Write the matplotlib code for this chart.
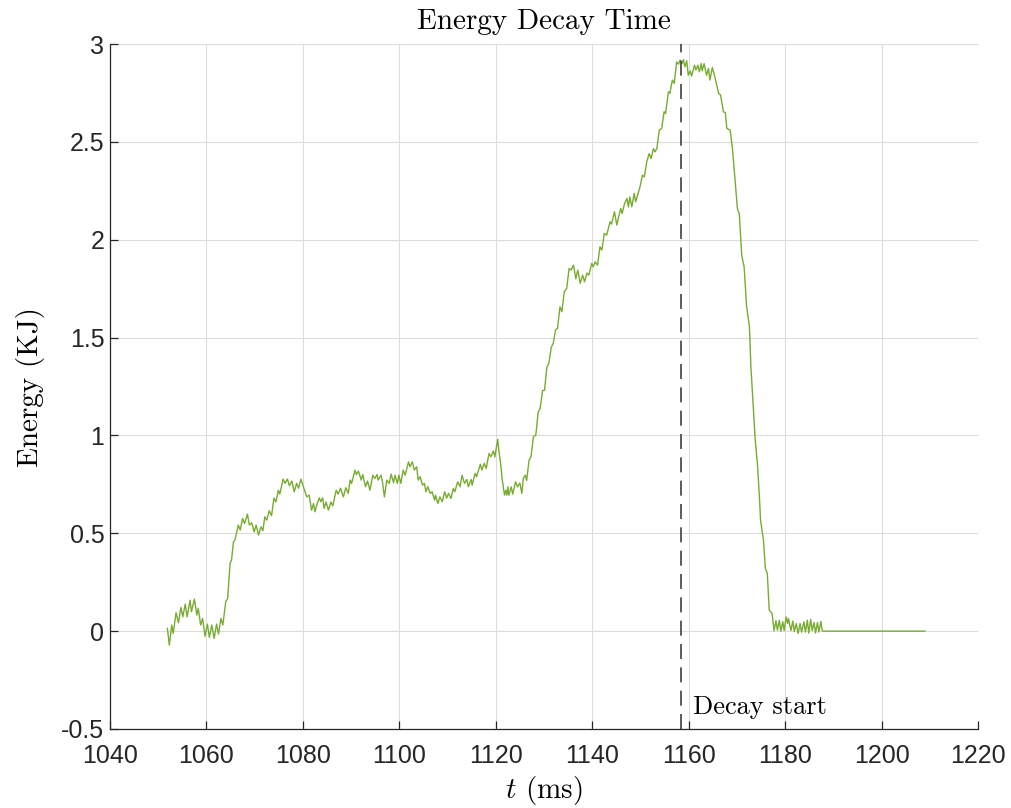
import numpy as np
import matplotlib.pyplot as plt

# energy trace (time in ms, energy in kJ)
t_ms = [
    1051.9, 1052.3, 1052.8, 1053.1, 1053.7, 1054.2, 1054.7, 1055.1, 1055.6, 1056.0,
    1056.6, 1056.9, 1057.5, 1058.0, 1058.3, 1058.8, 1059.2, 1059.7, 1060.2, 1060.6,
    1061.1, 1061.6, 1062.1, 1062.5, 1063.0, 1063.4, 1064.0, 1064.4, 1064.9, 1065.2,
    1065.6, 1065.9, 1066.6, 1067.0, 1067.5, 1067.9, 1068.5, 1068.9, 1069.4, 1069.9,
    1070.3, 1070.8, 1071.3, 1071.7, 1072.1, 1072.5, 1073.0, 1073.5, 1074.0, 1074.4,
    1074.9, 1075.2, 1075.9, 1076.3, 1076.8, 1077.2, 1077.7, 1078.2, 1078.7, 1079.1,
    1079.6, 1080.1, 1080.8, 1081.3, 1081.8, 1082.2, 1082.5, 1082.9, 1083.4, 1083.7,
    1084.1, 1084.4, 1084.8, 1085.3, 1085.8, 1086.2, 1086.9, 1087.3, 1087.8, 1088.4,
    1088.9, 1089.4, 1089.8, 1090.1, 1090.8, 1091.1, 1091.5, 1092.1, 1092.4, 1093.0,
    1093.4, 1093.9, 1094.5, 1094.9, 1095.4, 1095.6, 1096.2, 1096.5, 1096.9, 1097.4,
    1097.9, 1098.3, 1098.8, 1099.1, 1099.6, 1099.9, 1100.3, 1100.8, 1101.2, 1101.9,
    1102.2, 1102.7, 1103.1, 1103.6, 1103.9, 1104.3, 1104.8, 1105.2, 1105.5, 1105.9,
    1106.4, 1106.8, 1107.3, 1107.5, 1108.0, 1108.4, 1108.9, 1109.4, 1109.8, 1110.2,
    1110.7, 1111.2, 1111.5, 1112.1, 1112.6, 1113.0, 1113.5, 1114.0, 1114.3, 1114.9,
    1115.1, 1115.7, 1116.0, 1116.8, 1117.1, 1117.6, 1118.0, 1118.6, 1119.0, 1119.5,
    1119.8, 1120.4, 1120.6, 1121.0, 1121.3, 1121.8, 1122.1, 1122.3, 1122.5, 1122.7,
    1123.2, 1123.5, 1124.1, 1124.5, 1125.0, 1125.4, 1125.7, 1126.1, 1126.4, 1126.9,
    1127.3, 1127.8, 1128.3, 1128.8, 1129.2, 1129.7, 1130.1, 1130.6, 1131.0, 1131.5,
    1131.9, 1132.4, 1132.8, 1133.3, 1133.7, 1134.2, 1134.7, 1135.2, 1135.6, 1136.1,
    1136.6, 1137.0, 1137.5, 1138.0, 1138.4, 1138.9, 1139.3, 1139.9, 1140.2, 1140.6,
    1141.1, 1141.6, 1142.0, 1142.5, 1143.0, 1143.7, 1144.0, 1144.6, 1145.1, 1145.6,
    1145.9, 1146.2, 1146.7, 1147.2, 1147.5, 1147.8, 1148.2, 1148.7, 1149.0, 1149.6,
    1149.9, 1150.4, 1150.8, 1151.3, 1151.8, 1152.2, 1152.7, 1153.0, 1153.4, 1153.9,
    1154.4, 1154.9, 1155.2, 1155.8, 1156.1, 1156.6, 1157.0, 1157.5, 1157.9, 1158.2,
    1158.6, 1158.9, 1159.2, 1159.6, 1159.9, 1160.3, 1160.6, 1161.2, 1161.5, 1161.9,
    1162.2, 1162.6, 1162.8, 1163.2, 1163.7, 1164.1, 1164.4, 1164.9, 1165.5, 1166.2,
    1166.6, 1167.2, 1167.6, 1167.9, 1168.6, 1169.1, 1169.6, 1170.1, 1170.5, 1171.0,
    1171.5, 1172.0, 1172.6, 1172.9, 1173.4, 1173.8, 1174.3, 1174.7, 1174.9, 1175.5,
    1175.9, 1176.3, 1176.7, 1177.0, 1177.3, 1177.7, 1178.1, 1178.4, 1178.8, 1179.1,
    1179.5, 1179.8, 1180.2, 1180.5, 1180.7, 1181.2, 1181.6, 1181.9, 1182.3, 1182.7,
    1183.1, 1183.4, 1183.9, 1184.2, 1184.6, 1184.9, 1185.3, 1185.6, 1186.0, 1186.3,
    1186.7, 1187.0, 1187.4, 1187.7, 1187.9, 1209.0,
]
energy = [
    0.014, -0.072, 0.031, -0.012, 0.094, 0.043, 0.121, 0.073, 0.138, 0.073,
    0.158, 0.099, 0.164, 0.082, 0.116, 0.031, 0.065, -0.026, 0.036, -0.032,
    0.031, -0.037, 0.036, -0.015, 0.065, 0.031, 0.150, 0.167, 0.346, 0.363,
    0.456, 0.465, 0.542, 0.516, 0.576, 0.550, 0.598, 0.542, 0.553, 0.507,
    0.542, 0.491, 0.533, 0.513, 0.584, 0.567, 0.615, 0.590, 0.680, 0.660,
    0.720, 0.700, 0.777, 0.755, 0.777, 0.743, 0.767, 0.712, 0.755, 0.730,
    0.777, 0.738, 0.686, 0.695, 0.618, 0.652, 0.610, 0.647, 0.681, 0.661,
    0.681, 0.627, 0.660, 0.618, 0.660, 0.640, 0.720, 0.700, 0.730, 0.686,
    0.733, 0.704, 0.772, 0.755, 0.823, 0.800, 0.818, 0.772, 0.800, 0.738,
    0.767, 0.720, 0.797, 0.780, 0.800, 0.772, 0.797, 0.763, 0.686, 0.772,
    0.755, 0.802, 0.758, 0.797, 0.755, 0.797, 0.755, 0.823, 0.797, 0.865,
    0.840, 0.865, 0.823, 0.840, 0.772, 0.789, 0.746, 0.755, 0.712, 0.738,
    0.704, 0.712, 0.669, 0.695, 0.652, 0.686, 0.661, 0.712, 0.680, 0.704,
    0.678, 0.729, 0.712, 0.763, 0.738, 0.797, 0.755, 0.775, 0.738, 0.775,
    0.746, 0.806, 0.789, 0.853, 0.823, 0.857, 0.831, 0.908, 0.891, 0.921,
    0.890, 0.980, 0.930, 0.857, 0.780, 0.695, 0.720, 0.695, 0.737, 0.695,
    0.737, 0.700, 0.763, 0.737, 0.757, 0.704, 0.780, 0.797, 0.770, 0.874,
    0.891, 0.993, 1.002, 1.120, 1.138, 1.230, 1.230, 1.350, 1.368, 1.450,
    1.470, 1.540, 1.547, 1.657, 1.632, 1.734, 1.751, 1.853, 1.845, 1.870,
    1.800, 1.845, 1.777, 1.819, 1.785, 1.830, 1.819, 1.879, 1.862, 1.887,
    1.870, 1.964, 1.947, 2.032, 2.024, 2.092, 2.080, 2.143, 2.075, 2.130,
    2.160, 2.134, 2.185, 2.211, 2.168, 2.219, 2.168, 2.237, 2.194, 2.245,
    2.270, 2.330, 2.321, 2.398, 2.440, 2.415, 2.466, 2.449, 2.466, 2.560,
    2.569, 2.654, 2.645, 2.756, 2.748, 2.816, 2.799, 2.909, 2.897, 2.918,
    2.900, 2.920, 2.884, 2.914, 2.841, 2.863, 2.836, 2.892, 2.867, 2.892,
    2.858, 2.900, 2.863, 2.900, 2.840, 2.875, 2.816, 2.880, 2.824, 2.748,
    2.740, 2.654, 2.650, 2.569, 2.560, 2.458, 2.310, 2.160, 2.130, 1.920,
    1.860, 1.660, 1.555, 1.350, 1.146, 0.976, 0.840, 0.669, 0.567, 0.465,
    0.320, 0.295, 0.107, 0.099, 0.090, 0.002, 0.053, 0.005, 0.056, 0.000,
    0.048, 0.003, 0.073, 0.039, 0.065, 0.003, 0.051, -0.002, 0.039, -0.012,
    0.039, -0.005, 0.048, -0.005, 0.056, -0.010, 0.060, 0.003, 0.044, -0.010,
    0.044, -0.005, 0.050, 0.002, 0.000, 0.000,
]

decay_start = 1158.5
x_ticks = [1040, 1060, 1080, 1100, 1120, 1140, 1160, 1180, 1200, 1220]
y_ticks = [-0.5, 0, 0.5, 1, 1.5, 2, 2.5, 3]
y_tick_labels = ['-0.5', '0', '0.5', '1', '1.5', '2', '2.5', '3']

plt.rcParams['mathtext.fontset'] = 'cm'
plt.rcParams['axes.unicode_minus'] = False

fig = plt.figure(figsize=(10.11, 8.08), dpi=100)
ax = fig.add_axes([0.1088, 0.0978, 0.8586, 0.8477])

ax.plot(t_ms, energy, color='#77AC30', linewidth=1.0)
ax.axvline(decay_start, color='#404040', linewidth=1.2, linestyle=(0, (9, 5)))
ax.text(decay_start + 2.3, -0.39, 'Decay start', family='cmr10', fontsize=19,
        va='center', ha='left')

ax.set_xlim(1040, 1220)
ax.set_ylim(-0.5, 3)
ax.set_xticks(x_ticks)
ax.set_xticklabels([str(v) for v in x_ticks])
ax.set_yticks(y_ticks)
ax.set_yticklabels(y_tick_labels)

ax.grid(True, color='#dcdcdc', linewidth=0.8)
ax.set_axisbelow(True)
for side in ['top', 'right']:
    ax.spines[side].set_visible(False)
for side in ['left', 'bottom']:
    ax.spines[side].set_color('#262626')
    ax.spines[side].set_linewidth(0.9)
ax.tick_params(direction='in', length=6, width=0.9, color='#262626',
               labelsize=18, labelcolor='#262626')
ax.tick_params(axis='x', pad=11)
ax.tick_params(axis='y', pad=4)
for lab in ax.get_xticklabels() + ax.get_yticklabels():
    lab.set_family('Liberation Sans')

ax.set_title('Energy Decay Time', family='cmr10', fontsize=21, pad=11)
ax.set_xlabel(r'$t$ (ms)', family='cmr10', fontsize=21, labelpad=4)
ax.set_ylabel('Energy (KJ)', family='cmr10', fontsize=21, labelpad=12)

fig.savefig('out.png', dpi=100)
